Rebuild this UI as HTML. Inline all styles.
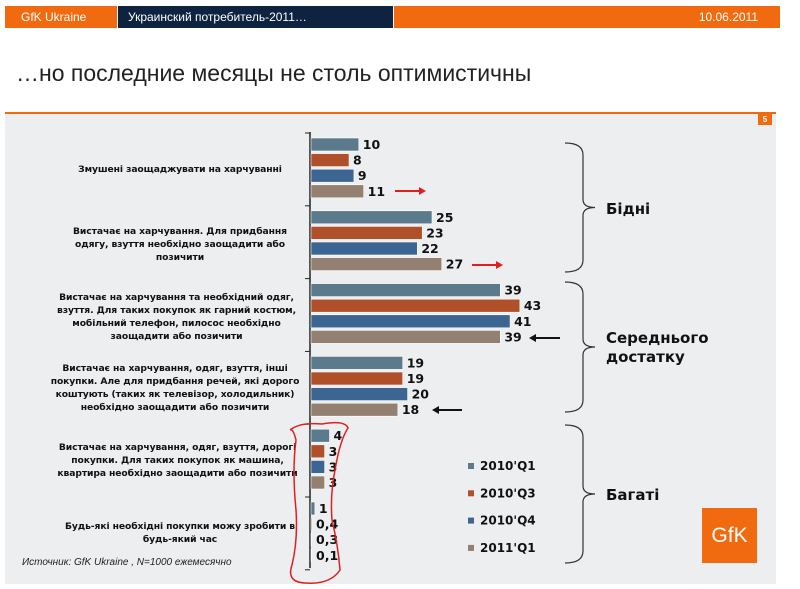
<!DOCTYPE html>
<html><head><meta charset="utf-8">
<style>
body{margin:0;width:800px;height:589px;background:#fff;position:relative;overflow:hidden;font-family:"Liberation Sans","DejaVu Sans",sans-serif}
.hb{position:absolute;top:6px;height:22px;color:#fff;font-size:12px;line-height:22px}
.lbl{position:absolute;width:250px;text-align:center;font-size:9.2px;font-weight:bold;line-height:13px;color:#111;font-family:"DejaVu Sans",sans-serif;letter-spacing:-0.1px}
</style></head><body>
<div class="hb" style="left:5px;width:112px;background:#f26a10;padding-left:16px;box-sizing:border-box">GfK Ukraine</div>
<div class="hb" style="left:118px;width:275px;background:#0d2340;padding-left:10px;box-sizing:border-box">Украинский потребитель-2011…</div>
<div class="hb" style="left:394px;width:386px;background:#f26a10;text-align:right;padding-right:22px;box-sizing:border-box">10.06.2011</div>
<div style="position:absolute;left:16px;top:60px;font-size:23px;color:#222">…но последние месяцы не столь оптимистичны</div>
<div style="position:absolute;left:5px;top:112px;width:771px;height:470px;background:#eceeef;border-top:2px solid #f26a10"></div>
<div style="position:absolute;left:758px;top:114px;width:14px;height:11px;background:#f26a10;color:#fff;font-size:8px;font-weight:bold;text-align:center;line-height:11px">5</div>
<div class="lbl" style="left:55px;top:163px">Змушені заощаджувати на харчуванні</div>
<div class="lbl" style="left:55px;top:225px">Вистачає на харчування. Для придбання одягу, взуття необхідно заощадити або позичити</div>
<div class="lbl" style="left:48px;top:291px;width:257px">Вистачає на харчування та необхідний одяг, взуття. Для таких покупок як гарний костюм, мобільний телефон, пилосос необхідно заощадити або позичити</div>
<div class="lbl" style="left:45px;top:362px;width:260px">Вистачає на харчування, одяг, взуття, інші покупки. Але для придбання речей, які дорого коштують (таких як телевізор, холодильник) необхідно заощадити або позичити</div>
<div class="lbl" style="left:50px;top:441px;width:255px">Вистачає на харчування, одяг, взуття, дорогі покупки. Для таких покупок як машина, квартира необхідно заощадити або позичити</div>
<div class="lbl" style="left:55px;top:520px">Будь-які необхідні покупки можу зробити в будь-який час</div>
<div style="position:absolute;left:22px;top:557px;font-size:10px;font-style:italic;color:#222">Источник:  GfK Ukraine , N=1000 ежемесячно</div>
<div style="position:absolute;left:702px;top:508px;width:55px;height:55px;background:#f26a10;color:#fff;font-size:21px;line-height:55px;text-align:center">GfK</div>
<svg id="chart" width="800" height="589" style="position:absolute;left:0;top:0"></svg>
<script>
const categories=["cat1","cat2","cat3","cat4","cat5","cat6"];
const seriesNames=["2010'Q1","2010'Q3","2010'Q4","2011'Q1"];
const q1_2010=[10,25,39,19,4,1];
const q3_2010=[8,23,43,19,3,0.4];
const q4_2010=[9,22,41,20,3,0.3];
const q1_2011=[11,27,39,18,3,0.1];
const seriesValues=[q1_2010,q3_2010,q4_2010,q1_2011];
const colors=["#5b7a8c","#b0502a","#3d6591","#948070"];
const NS="http://www.w3.org/2000/svg";
const svg=document.getElementById('chart');
const x0=310,pxPerUnit=4.88;
function xs(v){return x0+v*pxPerUnit;}
function groupY(i){return 138+i*72.8;}
function mk(t,a){const e=document.createElementNS(NS,t);for(const k in a)e.setAttribute(k,a[k]);svg.appendChild(e);return e;}
function fmt(v){return String(v).replace('.',',');}
let ax=mk('line',{x1:x0,y1:132,x2:x0,y2:568,stroke:'#222','stroke-width':1.5});


for(let i=0;i<=categories.length;i++){
  const y=groupY(i)-5;
  const t=mk('line',{x1:x0-5,y1:y,x2:x0,y2:y,stroke:'#222','stroke-width':1});
  
  
}
categories.forEach((c,i)=>{
  seriesValues.forEach((vals,s)=>{
    const v=vals[i];const y=groupY(i)+s*15.6;
    const r=mk('rect',{x:x0+1,y:y,width:Math.max(xs(v)-x0-1,0.6),height:13,fill:colors[s],stroke:'#fff','stroke-width':0.6});
    
    
    const tx=mk('text',{x:Math.max(xs(v),x0+2)+4,y:y+11,'font-size':12.5,'font-weight':'bold',fill:'#111','font-family':'DejaVu Sans,sans-serif'});
    tx.textContent=fmt(v);
    
    
  });
});
seriesNames.forEach((n,s)=>{
  const y=466+s*27.3;
  const r=mk('rect',{x:468,y:y-3,width:6,height:6,fill:colors[s]});
  
  
  const t=mk('text',{x:480,y:y+4,'font-size':12,'font-weight':'bold',fill:'#111','font-family':'DejaVu Sans,sans-serif'});
  t.textContent=n;
  
  
});
function brace(y1,y2,label,ly,name){
  const m=(y1+y2)/2;
  const p=mk('path',{d:`M565 ${y1} Q583 ${y1} 583 ${y1+12} L583 ${m-8} Q583 ${m} 595 ${m} Q583 ${m} 583 ${m+8} L583 ${y2-12} Q583 ${y2} 565 ${y2}`,fill:'none',stroke:'#333','stroke-width':1.2});
  
  
  label.forEach((l,k)=>{const t=mk('text',{x:606,y:ly+k*19,'font-size':15,'font-weight':'bold',fill:'#111','font-family':'DejaVu Sans,sans-serif'});t.textContent=l;
  
  });
}
brace(143,272,["Бідні"],214,'poor');
brace(282,412,["Середнього","достатку"],343,'middle');
brace(425,563,["Багаті"],500,'rich');
function arrow(x1,x2,y,c,name){
  const l=mk('line',{x1:x1,y1:y,x2:x2,y2:y,stroke:c,'stroke-width':2});
  
  
  const d=x2>x1?1:-1;
  const h=mk('polygon',{points:`${x2+d*4},${y} ${x2-d*3},${y-4} ${x2-d*3},${y+4}`,fill:c});
  
  
}
arrow(395,422,191,'#e02020','arrow-up-1');
arrow(472,499,265,'#e02020','arrow-up-2');
arrow(560,533,338,'#111','arrow-down-1');
arrow(462,436,410,'#111','arrow-down-2');
const sc=mk('path',{d:'M290 430 Q300 422 322 424 Q345 420 348 428 Q340 440 335 470 Q330 495 332 520 Q338 545 340 570 Q330 585 305 583 Q286 582 292 565 Q298 540 296 510 Q292 470 296 440 Q293 428 290 430',fill:'none',stroke:'#e02020','stroke-width':1.5});


</script>
</body></html>
